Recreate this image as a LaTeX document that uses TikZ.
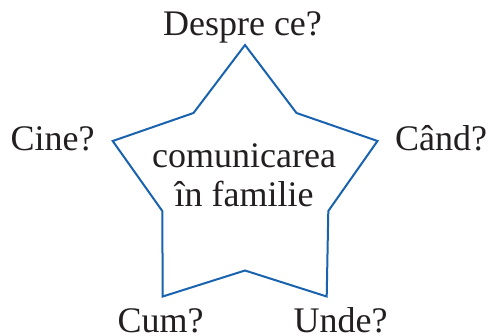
\documentclass[tikz,border=0pt]{standalone}
\usepackage{fontspec}
\setmainfont{Liberation Serif}
\begin{document}
\begin{tikzpicture}[x=1pt,y=-1pt,
  lbl/.style={anchor=base,inner sep=0pt,font=\fontsize{36}{38}\selectfont,text=txt},
  starline/.style={draw=starblue,line width=2pt,line join=miter}]
\definecolor{starblue}{HTML}{1862AE}
\definecolor{txt}{HTML}{231F20}
\useasboundingbox (0,0) rectangle (492,335);
\draw[starline] (245,45) -- (296.5,113) -- (377.5,141) -- (328.3,211) -- (326.7,296.5)
  -- (245,270.5) -- (162.7,296.5) -- (162.3,211) -- (112.7,141) -- (193.5,113) -- cycle;
\node[lbl] (t1) at (244,167.5) {comunicarea};
\node[lbl] (t2) at (244,206.5) {în familie};
\node[lbl] (despre) at (242.5,35.7) {Despre ce?};
\node[lbl] (cine) at (52.5,150.7) {Cine?};
\node[lbl] (cand) at (441,150.7) {Când?};
\node[lbl] (cum) at (160.5,332) {Cum?};
\node[lbl] (unde) at (340.5,332) {Unde?};
\end{tikzpicture}
\end{document}
